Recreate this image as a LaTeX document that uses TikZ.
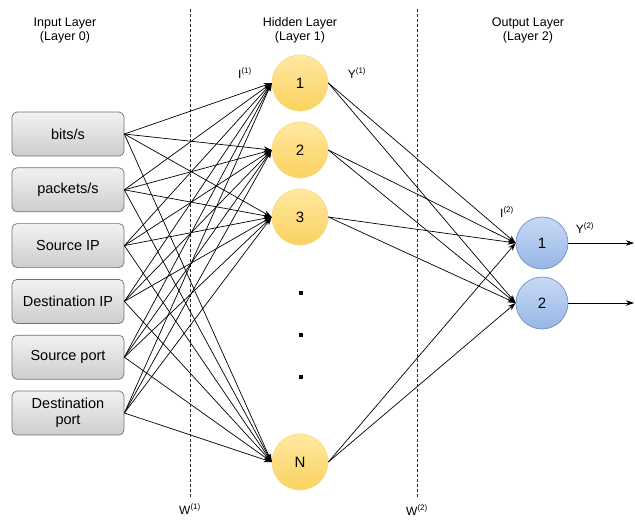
\documentclass[tikz,border=0pt]{standalone}
\usepackage{fontspec}
\setmainfont{Liberation Sans}
\usepackage{tikz}
\usetikzlibrary{shapes, positioning, arrows.meta}

\definecolor{boxtop}{RGB}{242,242,242}
\definecolor{boxbot}{RGB}{205,205,205}
\definecolor{boxline}{RGB}{115,115,115}
\definecolor{hidtop}{RGB}{255,232,160}
\definecolor{hidbot}{RGB}{250,210,95}
\definecolor{hidline}{RGB}{250,220,130}
\definecolor{outtop}{RGB}{200,218,245}
\definecolor{outbot}{RGB}{150,182,230}
\definecolor{outline}{RGB}{115,145,195}

\begin{document}
\begin{tikzpicture}[->,
>={Stealth[length=8pt, width=5.5pt]},
x=1pt, y=-1pt,
line width=0.7pt,
node distance=55.8pt,
inbox/.style={draw=boxline, rounded corners=5pt, top color=boxtop, bottom color=boxbot, minimum width=112pt, minimum height=44pt, align=center, font=\fontsize{14.5}{16}\selectfont},
hid/.style={circle, draw=hidline, top color=hidtop, bottom color=hidbot, minimum size=56pt, inner sep=0pt, font=\fontsize{15}{16}\selectfont},
outn/.style={circle, draw=outline, top color=outtop, bottom color=outbot, minimum size=52pt, inner sep=0pt, font=\fontsize{15}{16}\selectfont},
head/.style={align=center, font=\fontsize{12.5}{14}\selectfont},
lbl/.style={font=\fontsize{12}{13}\selectfont},
dot/.style={rectangle, fill=black, inner sep=0pt, minimum size=4pt},
sep/.style={-, thin, densely dashed, black!85}]

\useasboundingbox (0,0) rectangle (635,523);

% headers
\node[head] (inhead) at (65,30) {Input Layer\\(Layer 0)};
\node[head] (hidhead) at (300,30) {Hidden Layer\\(Layer 1)};
\node[head] (outhead) at (528,30) {Output Layer\\(Layer 2)};

% input layer
\node[inbox] (bits) at (68,134) {bits/s};
\node[inbox] (pkts)[below of=bits] {packets/s};
\node[inbox] (srcip)[below of=pkts] {Source IP};
\node[inbox] (dstip)[below of=srcip] {Destination IP};
\node[inbox] (srcport)[below of=dstip] {Source port};
\node[inbox] (dstport)[below of=srcport] {Destination\\port};

% hidden layer
\node[hid] (h1) at (300,83) {1};
\node[hid] (h2)[below of=h1, node distance=67pt] {2};
\node[hid] (h3)[below of=h2, node distance=67pt] {3};
\node[dot] (d1) at (301,293) {};
\node[dot] (d2)[below of=d1, node distance=42pt] {};
\node[dot] (d3)[below of=d2, node distance=42pt] {};
\node[hid] (hN) at (300,462) {N};

% output layer
\node[outn] (o1) at (542,243) {1};
\node[outn] (o2)[below of=o1, node distance=60pt] {2};
\coordinate (y1end) at (634,243);
\coordinate (y2end) at (634,303);

% weight separators
\coordinate (w1top) at (190,9);
\coordinate (w1bot) at (190,497);
\coordinate (w2top) at (417,9);
\coordinate (w2bot) at (417,497);
\draw[sep] (w1top) -- (w1bot);
\draw[sep] (w2top) -- (w2bot);
\node[lbl] (w1) at (190,509) {W\textsuperscript{(1)}};
\node[lbl] (w2) at (417,510) {W\textsuperscript{(2)}};

\node[lbl] (i1) at (245,73) {I\textsuperscript{(1)}};
\node[lbl] (y1) at (357,73) {Y\textsuperscript{(1)}};
\node[lbl] (i2) at (507,212) {I\textsuperscript{(2)}};
\node[lbl] (y2) at (585,228) {Y\textsuperscript{(2)}};

\path[->]
 (bits.east) edge (h1.west) (bits.east) edge (h2.west) (bits.east) edge (h3.west) (bits.east) edge (hN.west)
 (pkts.east) edge (h1.west) (pkts.east) edge (h2.west) (pkts.east) edge (h3.west) (pkts.east) edge (hN.west)
 (srcip.east) edge (h1.west) (srcip.east) edge (h2.west) (srcip.east) edge (h3.west) (srcip.east) edge (hN.west)
 (dstip.east) edge (h1.west) (dstip.east) edge (h2.west) (dstip.east) edge (h3.west) (dstip.east) edge (hN.west)
 (srcport.east) edge (h1.west) (srcport.east) edge (h2.west) (srcport.east) edge (h3.west) (srcport.east) edge (hN.west)
 (dstport.east) edge (h1.west) (dstport.east) edge (h2.west) (dstport.east) edge (h3.west) (dstport.east) edge (hN.west)

 (h1.east) edge (o1.west) (h1.east) edge (o2.west)
 (h2.east) edge (o1.west) (h2.east) edge (o2.west)
 (h3.east) edge (o1.west) (h3.east) edge (o2.west)
 (hN.east) edge (o1.west) (hN.east) edge (o2.west)

 (o1.east) edge (y1end)
 (o2.east) edge (y2end);

\end{tikzpicture}
\end{document}
